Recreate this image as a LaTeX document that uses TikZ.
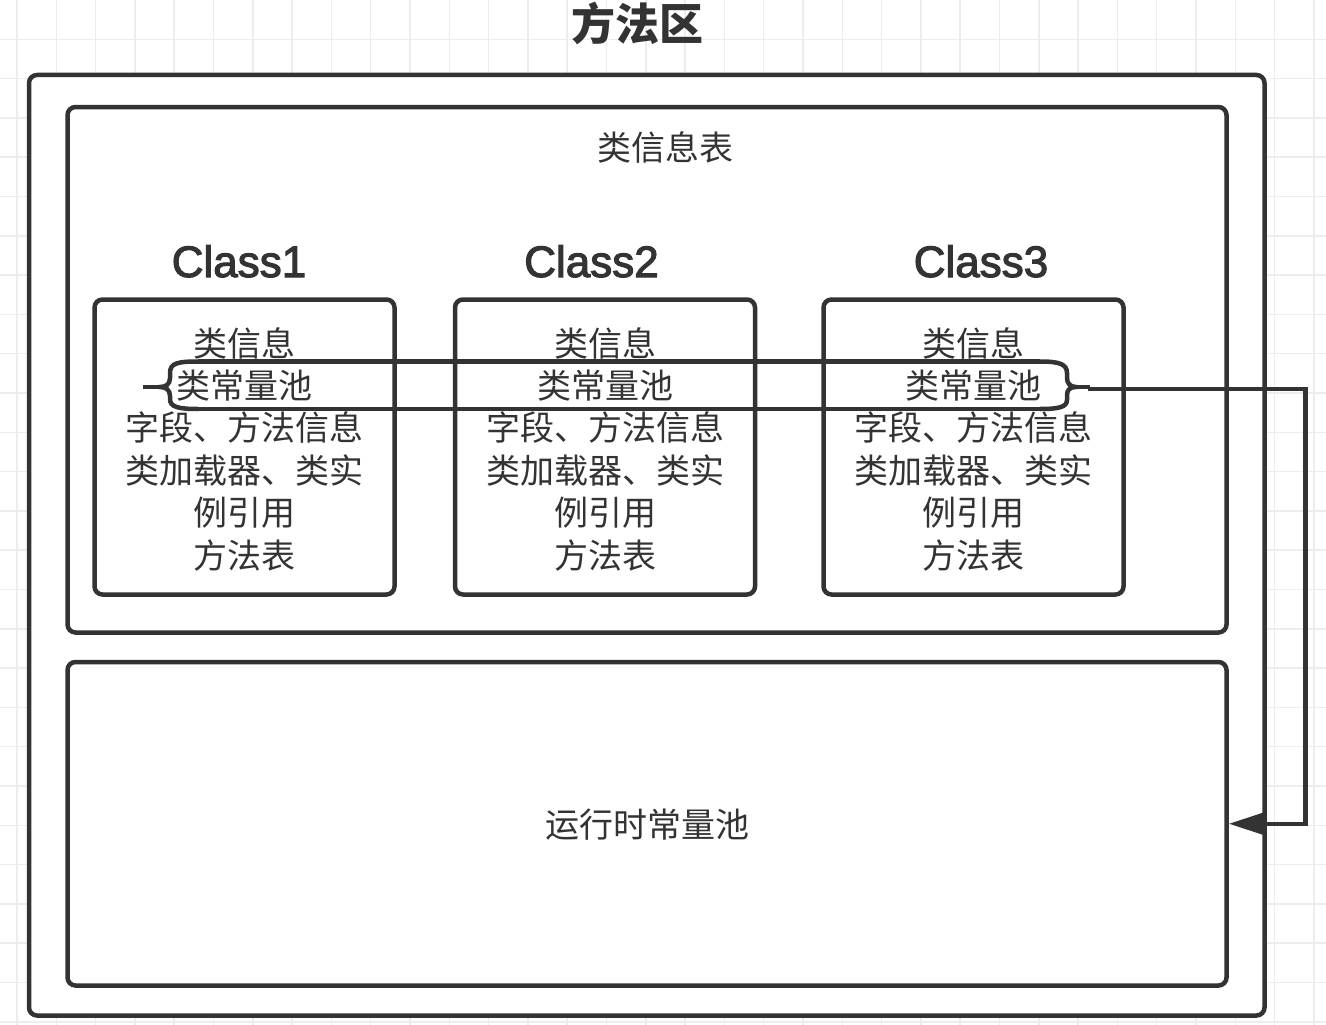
\documentclass[tikz,border=0pt]{standalone}
\usepackage{fontspec}
\newfontfamily\cjk{Noto Sans CJK SC}
\newfontfamily\latsans[FakeBold=2.5]{Liberation Sans}
\usetikzlibrary{arrows.meta}
\definecolor{ink}{HTML}{333333}
\definecolor{gridline}{HTML}{EDEDED}

\begin{document}
\begin{tikzpicture}[x=1pt,y=-1pt,
  frame/.style={draw=ink, line width=4.5pt, rounded corners=8pt, inner sep=0pt},
  cjktext/.style={text=ink, font=\cjk\fontsize{34}{42.4}\selectfont, inner sep=0pt, align=center},
  classtitle/.style={text=ink, font=\latsans\fontsize{44}{50}\selectfont, inner sep=0pt, anchor=base},
  wire/.style={draw=ink, line width=4.5pt},
]
\useasboundingbox (0,0) rectangle (1326,1025);
\clip (0,0) rectangle (1326,1025);
\fill[white] (0,0) rectangle (1326,1025);

% background grid
\foreach \k in {0,...,34}
  \draw[gridline, line width=1.5pt] ({17+39.3*\k},0) -- ++(0,1025);
\foreach \k in {1,...,26}
  \draw[gridline, line width=1.5pt] (0,{39.3*\k}) -- ++(1326,0);

% method area
\node[cjktext, font=\cjk\bfseries\fontsize{44}{50}\selectfont] (title) at (637,24) {方法区};
\node[frame, fill=white, minimum width=1235.5pt, minimum height=940.5pt] (area) at (646.75,545.25) {};

% class information table
\node[frame, minimum width=1159pt, minimum height=525.5pt] (table) at (647,369.75) {};
\node[cjktext] (tabletitle) at (665,147) {类信息表};

\node[classtitle] (c1name) at (239,277) {Class1};
\node[classtitle] (c2name) at (591.5,277) {Class2};
\node[classtitle] (c3name) at (981,277) {Class3};

\node[frame, minimum width=300pt, minimum height=295pt] (c1) at (244.5,447) {};
\node[frame, minimum width=300pt, minimum height=295pt] (c2) at (605,447) {};
\node[frame, minimum width=300pt, minimum height=295pt] (c3) at (973.5,447) {};

\foreach \n/\x in {c1text/244.5, c2text/605, c3text/973.5}
  \node[cjktext] (\n) at (\x,449) {类信息\\类常量池\\字段、方法信息\\类加载器、类实\\例引用\\方法表};

% runtime constant pool
\node[frame, minimum width=1159pt, minimum height=323.5pt] (runpool) at (647,823.75) {};
\node[cjktext] (runtitle) at (647,825) {运行时常量池};

% band around the class constant pools
\coordinate (bandTL) at (198,361.5);
\coordinate (bandTR) at (1040,361.5);
\coordinate (bandBL) at (198,409);
\coordinate (bandBR) at (1040,409);
\draw[wire] (bandTL) -- (bandTR);
\draw[wire] (bandBL) -- (bandBR);

% left brace
\draw[wire] (bandTL) .. controls (178,361.5) and (170,363) .. (170,373) -- (170,378)
  .. controls (170,384) and (166,387) .. (160,387)
  .. controls (166,387) and (170,390) .. (170,396) -- (170,399)
  .. controls (170,407) and (178,409) .. (bandBL);
\draw[wire] (160,387) -- (143,387);

% right brace
\draw[wire] (bandTR) .. controls (1059,361.5) and (1067,364) .. (1067,373) -- (1067,378)
  .. controls (1067,383) and (1070,387) .. (1076,387)
  .. controls (1070,387) and (1067,390) .. (1067,395) -- (1067,400)
  .. controls (1067,407) and (1059,409) .. (bandBR);
\coordinate (poolOut) at (1090,387);
\draw[wire] (1076,387) -- (poolOut);

% connector to the runtime constant pool
\coordinate (turn) at (1305.5,389);
\draw[wire, -{Triangle[length=36pt,width=22pt]}] (poolOut) -- (poolOut |- turn) -- (turn) |- (runpool.east);
\end{tikzpicture}
\end{document}
